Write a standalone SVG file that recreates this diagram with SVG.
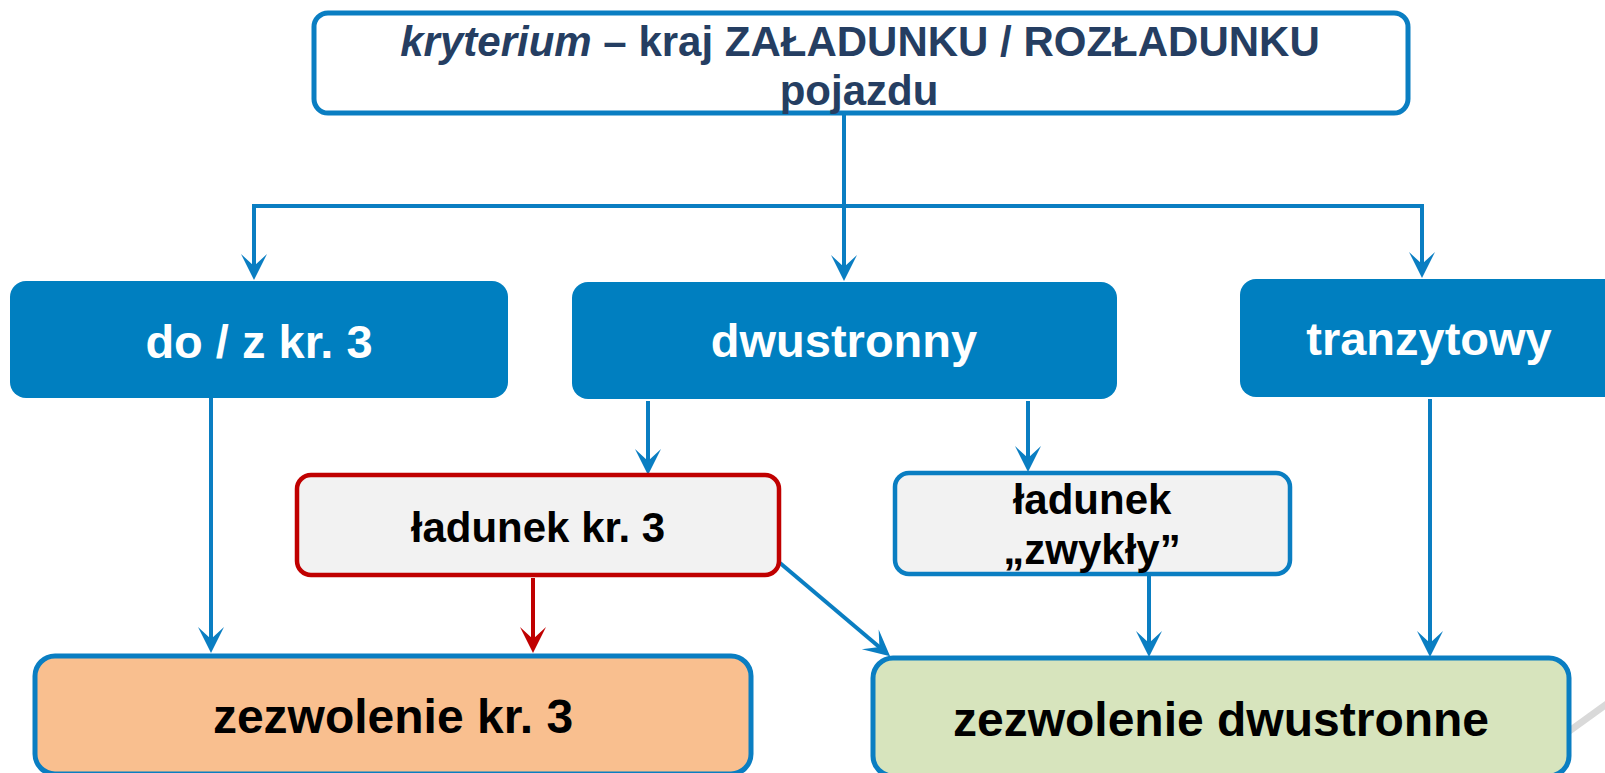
<svg xmlns="http://www.w3.org/2000/svg" width="1605" height="773" viewBox="0 0 1605 773">
<defs>
<style>
text{font-family:"Liberation Sans",Arial,sans-serif;font-weight:bold;text-anchor:middle}
.conn{fill:none;stroke:#0A7EC2;stroke-width:4}
.red{fill:none;stroke:#C00000;stroke-width:4}
.lvl2{fill:#007FC0}
.lvl2t{fill:#FFFFFF;font-size:47px}
.blk{fill:#000000}
</style>
<marker id="ab" markerUnits="userSpaceOnUse" viewBox="-27 -14 28 28" refX="-8" refY="0" markerWidth="28" markerHeight="28" orient="auto">
<path d="M0,0 L-26,-13 L-14,0 L-26,13 Z" fill="#0A7EC2"/>
</marker>
<marker id="ar" markerUnits="userSpaceOnUse" viewBox="-27 -14 28 28" refX="-8" refY="0" markerWidth="28" markerHeight="28" orient="auto">
<path d="M0,0 L-26,-13 L-14,0 L-26,13 Z" fill="#C00000"/>
</marker>
</defs>
<rect width="1605" height="773" fill="#FFFFFF"/>
<line x1="1550" y1="745" x2="1640" y2="680" stroke="#D9D9D9" stroke-width="7"/>
<g id="connectors">
<path class="conn" d="M844,115 V273" marker-end="url(#ab)"/>
<path class="conn" d="M844,206 H254 V272" marker-end="url(#ab)"/>
<path class="conn" d="M844,206 H1422 V270" marker-end="url(#ab)"/>
<path class="conn" d="M211,398 V645" marker-end="url(#ab)"/>
<path class="conn" d="M648,401 V467" marker-end="url(#ab)"/>
<path class="conn" d="M1028,401 V464" marker-end="url(#ab)"/>
<path class="conn" d="M1430,399 V649" marker-end="url(#ab)"/>
<path class="conn" d="M1149,576 V649" marker-end="url(#ab)"/>
<path class="conn" d="M780,563 L884,651" marker-end="url(#ab)"/>
<path class="red" d="M533,578 V645" marker-end="url(#ar)"/>
</g>
<g id="top">
<rect x="314" y="13" width="1094" height="100" rx="14" fill="#FFFFFF" stroke="#0A7EC2" stroke-width="5"/>
<text x="860" y="56" font-size="42" fill="#253E62"><tspan font-style="italic">kryterium</tspan> – kraj ZAŁADUNKU / ROZŁADUNKU</text>
<text x="859" y="105" font-size="42" fill="#253E62">pojazdu</text>
</g>
<g id="do-z-kr3">
<rect class="lvl2" x="10" y="281" width="498" height="117" rx="16"/>
<text class="lvl2t" x="259" y="358">do / z kr. 3</text>
</g>
<g id="dwustronny">
<rect class="lvl2" x="572" y="282" width="545" height="117" rx="16"/>
<text class="lvl2t" x="844" y="357">dwustronny</text>
</g>
<g id="tranzytowy">
<rect class="lvl2" x="1240" y="279" width="380" height="118" rx="16"/>
<text class="lvl2t" x="1429" y="355">tranzytowy</text>
</g>
<g id="ladunek-kr3">
<rect x="297" y="475" width="482" height="100" rx="14" fill="#F2F2F2" stroke="#C00000" stroke-width="4.5"/>
<text class="blk" x="538" y="542" font-size="42">ładunek kr. 3</text>
</g>
<g id="ladunek-zwykly">
<rect x="895" y="473" width="395" height="101" rx="14" fill="#F2F2F2" stroke="#0A7EC2" stroke-width="4.5"/>
<text class="blk" x="1092" y="514" font-size="42">ładunek</text>
<text class="blk" x="1092" y="564" font-size="42">„zwykły”</text>
</g>
<g id="zezwolenie-kr3">
<rect x="35" y="656" width="716" height="118" rx="20" fill="#F9BF8F" stroke="#0A7EC2" stroke-width="5"/>
<text class="blk" x="393" y="733" font-size="48">zezwolenie kr. 3</text>
</g>
<g id="zezwolenie-dwustronne">
<rect x="873" y="658" width="696" height="118" rx="20" fill="#D7E4BD" stroke="#0A7EC2" stroke-width="5"/>
<text class="blk" x="1221" y="736" font-size="48">zezwolenie dwustronne</text>
</g>
</svg>
